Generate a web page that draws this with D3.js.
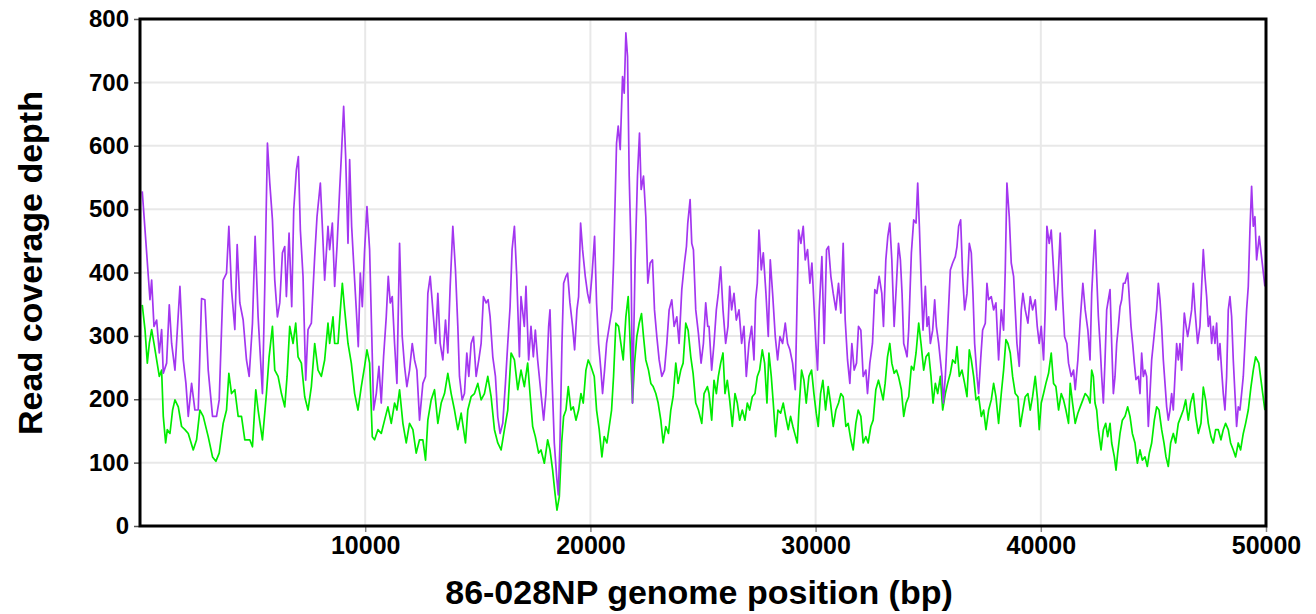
<!DOCTYPE html>
<html>
<head>
<meta charset="utf-8">
<script src="https://cdn.jsdelivr.net/npm/d3@7"></script>
<style>
  body { margin: 0; background: #fff; }
  text { font-family: "Liberation Sans", Arial, sans-serif; font-weight: bold; fill: #000; }
</style>
</head>
<body>
<div id="chart"></div>
<script>
// tick labels
var yTicks = [0, 100, 200, 300, 400, 500, 600, 700, 800];
var xTicks = [10000, 20000, 30000, 40000, 50000];

// purple series (upper): position bp, depth
var purplePos = [100,266,369,443,517,621,739,857,960,1034,1182,1300,1404,1552,1773,1921,2039,2143,2291,2438,2586,2734,2882,3029,3221,3399,3517,3694,3842,3946,4064,4211,4315,4433,4581,4728,4847,4994,5112,5245,5437,5541,5659,5763,5881,5984,6102,6206,6324,6427,6501,6619,6737,6826,6944,7032,7121,7239,7358,7461,7609,7757,7860,8008,8097,8200,8348,
  8422,8541,8644,8748,8866,8940,9043,9132,9236,9309,9398,9487,9605,9693,9782,9871,9974,10078,10196,10285,10373,10492,10610,10713,10816,10935,11024,11112,11201,11304,11408,11526,11644,11748,11851,11969,12088,12191,12295,12413,12561,12679,12782,12886,13004,13122,13226,13329,13448,13566,13669,13773,13891,14009,14113,14187,14305,14408,14512,14601,14704,14808,14926,15044,15148,15251,15369,15458,15547,15665,15783,15887,15990,16108,16227,16330,16434,16522,16626,16729,16848,
  16919,17066,17140,17259,17362,17466,17555,17658,17806,17924,18027,18146,18205,18294,18397,18501,18575,18649,18737,18811,18915,18988,19092,19210,19299,19402,19476,19565,19653,19772,19875,19964,20067,20186,20274,20363,20466,20540,20629,20718,20836,20954,21028,21102,21161,21235,21324,21427,21501,21575,21649,21723,21797,21870,21988,22091,22180,22254,22358,22461,22550,22653,22757,22846,22949,23053,23171,23289,23393,23496,23614,23718,23836,23939,24058,24176,24265,24324,24427,24501,24575,24678,24796,24915,25018,25121,25210,
  25267,25385,25489,25592,25681,25785,25888,26006,26110,26184,26272,26376,26479,26598,26716,26819,26923,27041,27159,27263,27337,27411,27485,27588,27677,27795,27899,27987,28091,28209,28313,28416,28535,28653,28756,28860,28978,29096,29170,29244,29348,29451,29540,29643,29747,29836,29939,30013,30087,30161,30279,30382,30486,30575,30678,30782,30900,31018,31122,31225,31314,31418,31521,31610,31713,31817,31905,32009,32113,32231,32305,32408,32526,32630,32719,32822,32940,33014,33118,33207,33295,33384,33488,33591,33680,
  33765,33839,33913,33987,34061,34134,34253,34356,34460,34534,34608,34696,34770,34874,34948,35022,35096,35199,35288,35362,35465,35539,35613,35672,35761,35879,35983,36086,36204,36278,36352,36441,36530,36618,36722,36825,36914,36988,37062,37166,37240,37328,37417,37535,37609,37683,37801,37905,38008,38126,38245,38348,38422,38496,38600,38688,38792,38866,38940,39043,39132,39206,39309,39428,39531,39635,39753,39842,39930,40019,40123,40197,40271,40374,40463,40567,40670,40759,40862,40966,41055,41158,41232,41350,41454,41528,41646,41750,41868,41971,42090,
  42186,42260,42334,42408,42482,42556,42630,42704,42778,42852,42926,43000,43074,43148,43222,43296,43370,43444,43518,43592,43665,43739,43858,43917,44005,44079,44153,44227,44331,44405,44479,44553,44627,44701,44775,44849,44923,44997,45071,45145,45219,45293,45367,45441,45515,45589,45662,45736,45810,45884,45958,46032,46106,46180,46254,46373,46432,46520,46594,46698,46772,46846,46964,47068,47142,47216,47290,47364,47438,47512,47586,47659,47733,47807,47881,47955,48029,48103,48177,48251,48325,48399,48473,48547,48621,48695,48769,48843,48917,48991,49065,49139,49213,49287,49361,49435,49509,49583,49700,49950];
var purpleDepth = [528,446,394,357,388,315,325,273,310,241,257,349,288,246,378,262,225,173,225,183,183,359,357,246,173,173,199,388,399,473,373,310,444,352,325,262,236,320,457,330,209,378,604,541,483,388,330,352,431,441,362,462,346,499,562,583,467,394,230,310,320,425,488,541,473,388,473,
  436,478,378,441,531,583,662,583,446,578,473,415,341,283,399,346,436,504,436,310,183,209,252,194,267,330,394,352,362,288,225,446,299,252,220,246,288,262,246,167,225,236,367,394,341,288,367,288,262,325,273,378,473,404,315,236,199,209,273,236,288,299,236,262,288,362,352,357,330,267,236,172,146,162,225,288,346,436,473,394,267,
  362,315,378,262,315,267,309,262,209,167,209,315,341,236,131,78,49,131,288,383,394,399,352,315,278,341,362,478,436,394,367,352,394,457,352,288,246,209,246,288,315,341,415,520,604,631,594,709,683,778,741,552,446,194,420,552,620,531,552,488,383,415,420,341,299,262,236,246,288,341,357,315,330,288,373,415,441,478,515,446,436,341,304,257,288,352,315,
  315,246,288,341,367,409,341,288,315,378,341,367,325,341,288,315,236,288,315,262,357,383,467,404,431,367,299,420,367,299,262,299,288,320,288,278,257,215,341,467,446,473,420,436,383,415,341,288,246,341,425,288,436,441,394,367,341,383,336,446,325,262,225,288,246,257,315,309,236,246,209,257,288,373,367,394,367,315,420,457,478,420,315,383,446,
  420,367,288,278,267,309,431,483,478,541,473,378,309,378,315,330,288,309,357,315,288,262,236,194,236,325,404,415,425,441,473,483,394,341,367,446,431,367,288,236,209,262,309,320,383,357,362,341,352,262,341,309,404,541,488,415,394,341,288,252,341,367,341,320,362,341,357,315,288,315,262,341,473,446,467,404,341,383,462,362,299,288,257,236,246,215,262,325,383,341,309,
  262,367,420,467,394,331,288,236,194,262,341,357,373,288,209,236,288,315,346,357,383,383,399,367,315,288,257,231,236,209,273,236,246,236,157,209,262,288,315,341,383,357,315,262,225,188,167,183,209,183,236,288,262,288,246,336,320,299,315,341,383,341,288,315,378,436,394,362,315,331,288,315,288,320,262,288,246,209,183,236,341,362,331,262,209,157,188,183,209,236,288,341,378,467,536,473,488,420,457,378];

// green series (lower): position bp, depth
var greenPos = [100,222,325,414,517,621,739,857,960,1034,1138,1212,1330,1448,1552,1700,1847,1995,2143,2364,2512,2660,2808,3029,3221,3369,3517,3694,3842,3946,4064,4211,4359,4507,4654,4876,4994,5142,5245,5437,5615,5733,5881,5984,6132,6280,6427,6531,6649,6797,6915,7018,7166,7314,7461,7609,7757,7905,8053,8200,8348,
  8422,8570,8644,8792,8896,8985,9088,9236,9383,9531,9679,9827,9974,10078,10196,10314,10418,10565,10713,10861,11009,11157,11304,11408,11526,11674,11822,11969,12118,12265,12413,12561,12679,12782,12930,13078,13226,13374,13522,13669,13817,13965,14113,14261,14453,14556,14704,14852,15000,15148,15295,15443,15591,15739,15887,16035,16182,16330,16478,16626,16774,
  16919,17067,17214,17318,17436,17555,17702,17806,17954,18101,18205,18323,18427,18516,18619,18723,18811,18915,19018,19136,19240,19358,19476,19580,19683,19801,19905,20023,20171,20274,20392,20511,20614,20733,20836,20940,21028,21132,21250,21353,21457,21575,21678,21767,21870,21959,22062,22166,22269,22358,22461,22580,22684,22787,22905,23009,23127,23230,23348,23467,23570,23674,23792,23895,24013,24117,24235,24339,24457,24560,24678,24797,24945,25048,25196,
  25267,25386,25489,25593,25681,25785,25888,25976,26080,26184,26302,26420,26524,26627,26745,26864,26967,27071,27189,27307,27411,27514,27633,27736,27840,27928,28032,28120,28224,28327,28446,28564,28667,28785,28889,28992,29111,29185,29259,29377,29481,29584,29703,29821,29925,30028,30117,30220,30324,30442,30560,30664,30782,30900,31018,31122,31225,31344,31447,31565,31669,31787,31891,32009,32113,32231,32334,32452,32556,32674,32792,32896,32999,33088,33192,33295,33384,33488,33591,33680,
  33809,33913,34017,34134,34253,34356,34460,34578,34681,34800,34904,35022,35125,35214,35318,35421,35539,35643,35761,35864,35983,36086,36204,36278,36382,36500,36618,36722,36825,36914,37018,37122,37240,37358,37461,37565,37683,37801,37905,38008,38126,38245,38348,38452,38541,38644,38748,38866,38984,39088,39206,39309,39428,39531,39635,39753,39857,39930,40019,40123,40226,40345,40463,40567,40670,40789,40907,41010,41114,41232,41306,41410,41528,41646,41750,41868,41971,42090,
  42187,42260,42334,42408,42482,42556,42674,42778,42882,42970,43074,43148,43266,43340,43414,43518,43621,43739,43858,43961,44065,44183,44287,44405,44508,44627,44730,44819,44923,45041,45145,45249,45367,45470,45559,45662,45766,45884,45988,46106,46224,46328,46432,46550,46653,46772,46876,46994,47112,47216,47319,47438,47556,47659,47763,47881,47999,48103,48206,48325,48428,48547,48650,48769,48872,48991,49095,49213,49331,49435,49538,49680,49950];
var greenDepth = [349,310,257,288,310,288,262,236,246,173,131,152,146,183,199,188,157,152,146,120,136,183,173,141,109,102,115,162,183,241,209,215,173,173,136,136,125,215,183,136,209,267,315,246,236,209,188,236,315,288,320,267,257,204,183,220,288,246,236,262,320,
  288,330,288,288,341,383,341,288,257,209,183,220,252,278,257,141,136,152,146,167,188,162,194,183,215,162,131,162,152,115,136,136,104,167,199,215,162,194,209,241,209,183,152,178,131,183,204,209,225,199,209,236,204,152,131,120,152,183,273,262,215,
  246,220,257,209,157,141,115,120,99,136,120,88,52,25,46,131,173,183,220,183,188,167,183,209,194,246,262,252,236,183,152,109,141,131,157,183,236,320,315,288,262,330,362,288,194,257,299,320,335,299,262,246,225,220,209,194,167,131,157,146,183,204,257,225,246,257,320,309,267,241,194,183,162,209,220,
  209,167,230,209,236,257,273,209,230,199,157,209,194,167,183,167,194,183,204,209,236,246,278,257,194,273,236,194,141,183,178,194,173,152,173,157,141,131,183,246,230,194,236,246,209,178,157,209,230,183,220,194,157,183,194,209,204,157,162,136,120,162,183,173,131,141,131,157,167,215,230,215,199,225,267,288,257,241,246,236,
  215,173,194,204,252,246,273,320,288,246,267,273,236,194,225,209,236,183,209,225,241,262,257,283,236,246,225,204,278,262,236,199,204,173,183,152,183,199,225,204,162,209,246,294,288,273,236,209,204,157,183,204,209,183,204,236,199,152,194,209,225,241,273,225,220,183,209,199,183,162,225,194,162,178,188,199,209,204,
  194,246,236,194,183,152,120,152,162,141,162,131,109,88,115,146,167,173,188,173,146,131,99,120,104,109,94,115,131,167,188,183,152,131,109,94,131,146,131,162,173,183,199,167,194,209,173,146,162,219,199,162,141,131,152,152,136,152,162,152,131,120,109,131,120,146,162,183,219,246,267,257,183];

var width = 1316, height = 614;
var plot = {left: 140, right: 1266, top: 19, bottom: 526};

var svg = d3.select("#chart").append("svg")
  .attr("width", width)
  .attr("height", height);

var xScale = d3.scaleLinear().domain([0, 50000]).range([plot.left, plot.right]);
var yScale = d3.scaleLinear().domain([0, 800]).range([plot.bottom, plot.top]);

// grid
svg.append("g")
  .selectAll("line.h")
  .data(yTicks.filter(d => d > 0 && d < 800))
  .enter().append("line")
  .attr("x1", plot.left).attr("x2", plot.right)
  .attr("y1", d => yScale(d)).attr("y2", d => yScale(d))
  .attr("stroke", "#e8e8e8").attr("stroke-width", 2);

svg.append("g")
  .selectAll("line.v")
  .data(xTicks.filter(d => d < 50000))
  .enter().append("line")
  .attr("x1", d => xScale(d)).attr("x2", d => xScale(d))
  .attr("y1", plot.top).attr("y2", plot.bottom)
  .attr("stroke", "#e8e8e8").attr("stroke-width", 2);

// lines
var lineGreen = d3.line()
  .x((d, i) => xScale(greenPos[i]))
  .y(d => yScale(d));
var linePurple = d3.line()
  .x((d, i) => xScale(purplePos[i]))
  .y(d => yScale(d));

svg.append("path")
  .datum(greenDepth)
  .attr("d", lineGreen)
  .attr("fill", "none")
  .attr("stroke", "#00ec00")
  .attr("stroke-width", 1.7)
  .attr("stroke-linejoin", "round");

svg.append("path")
  .datum(purpleDepth)
  .attr("d", linePurple)
  .attr("fill", "none")
  .attr("stroke", "#a336f0")
  .attr("stroke-width", 1.7)
  .attr("stroke-linejoin", "round");

// axes
var yAxis = d3.axisLeft(yScale).tickValues(yTicks).tickSize(5).tickPadding(5);
var yG = svg.append("g")
  .attr("transform", "translate(" + (plot.left - 1) + ",0)")
  .call(yAxis);
yG.select(".domain").remove();
yG.selectAll("line").attr("stroke", "#555").attr("stroke-width", 1.5);
yG.selectAll("text")
  .style("font-family", "'Liberation Sans', Arial, sans-serif")
  .style("font-weight", "bold")
  .style("font-size", "24px")
  .attr("fill", "#000");

var xAxis = d3.axisBottom(xScale).tickValues(xTicks).tickSize(5).tickPadding(4).tickFormat(d3.format("d"));
var xG = svg.append("g")
  .attr("transform", "translate(0," + (plot.bottom + 1) + ")")
  .call(xAxis);
xG.select(".domain").remove();
xG.selectAll("line").attr("stroke", "#888").attr("stroke-width", 1.5);
xG.selectAll("text")
  .style("font-family", "'Liberation Sans', Arial, sans-serif")
  .style("font-weight", "bold")
  .style("font-size", "25px")
  .attr("fill", "#000");

// plot frame
svg.append("rect")
  .attr("x", plot.left)
  .attr("y", plot.top)
  .attr("width", plot.right - plot.left)
  .attr("height", plot.bottom - plot.top)
  .attr("fill", "none")
  .attr("stroke", "#000")
  .attr("stroke-width", 3);

// titles
svg.append("text")
  .attr("x", 699)
  .attr("y", 604)
  .attr("text-anchor", "middle")
  .style("font-size", "34px")
  .text("86-028NP genome position (bp)");

svg.append("text")
  .attr("transform", "translate(42,263) rotate(-90)")
  .attr("text-anchor", "middle")
  .style("font-size", "34px")
  .text("Read coverage depth");
</script>
</body>
</html>
